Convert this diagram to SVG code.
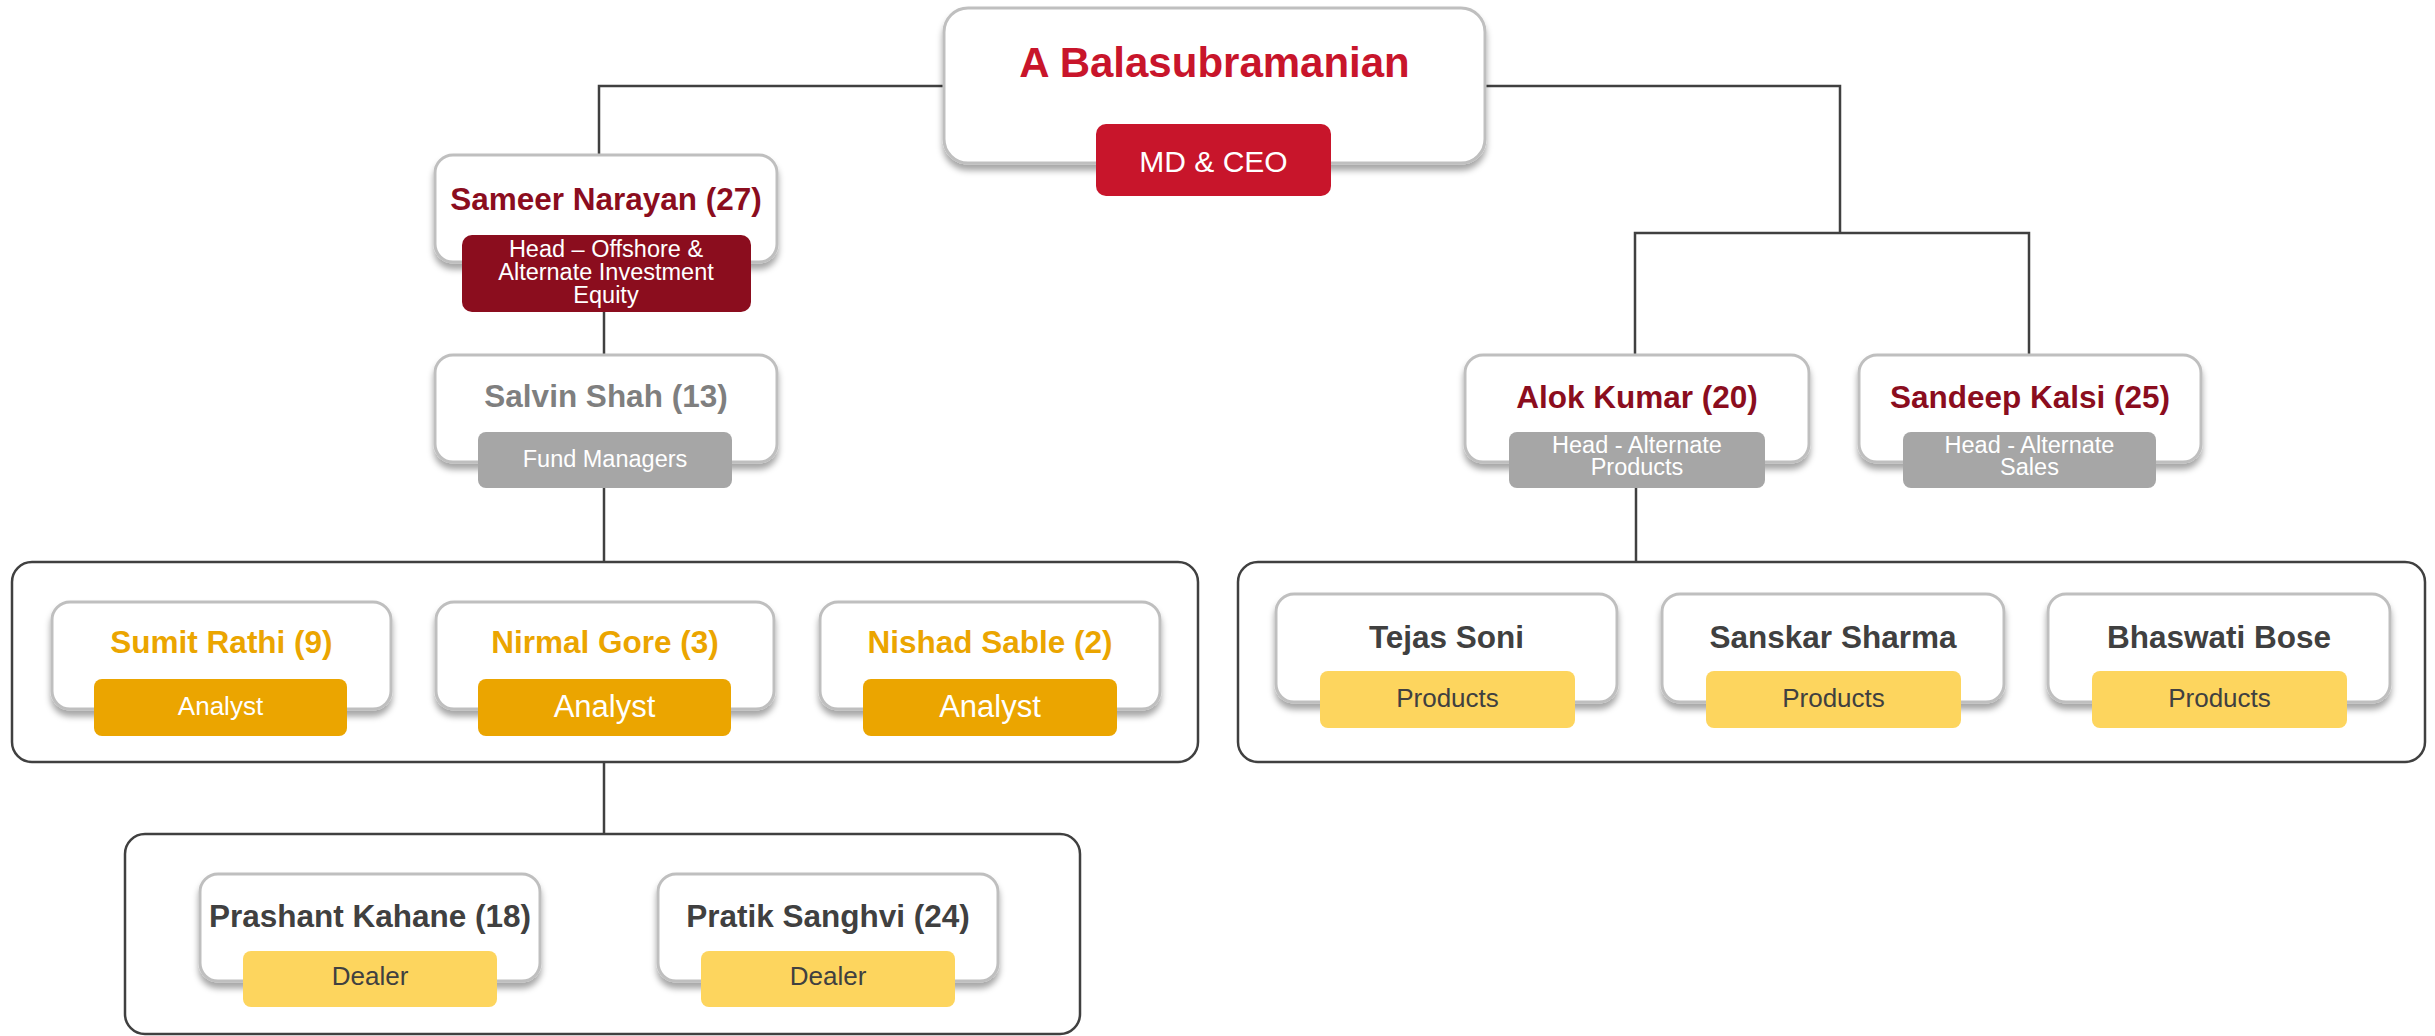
<svg xmlns="http://www.w3.org/2000/svg" width="2435" height="1036" viewBox="0 0 2435 1036">
<defs>
<filter id="sh" x="-10%" y="-10%" width="120%" height="140%">
<feDropShadow dx="0" dy="6" stdDeviation="3" flood-color="#000" flood-opacity="0.35"/>
</filter>
<style>
.box{fill:#fff;stroke:#BFBFBF;stroke-width:3;filter:url(#sh)}
.grp{fill:#fff;stroke:#404040;stroke-width:2.5}
.con{fill:none;stroke:#404040;stroke-width:2.5}
text{font-family:"Liberation Sans",Arial,sans-serif;text-anchor:middle}
.nm{font-weight:bold;font-size:31.5px}
.bt{font-size:23.5px;fill:#fff}
.red{fill:#8B0D1E}
.gray{fill:#A6A6A6}
.org{fill:#EBA500}
.yel{fill:#FDD55E}
.yt{font-size:26px;fill:#404040}
.dk{fill:#404040}
</style>
</defs>
<rect width="2435" height="1036" fill="#fff"/>
<g id="group-analysts"><rect class="grp" x="12" y="562" width="1186" height="200" rx="20"/></g>
<g id="group-products"><rect class="grp" x="1238" y="562" width="1187" height="200" rx="20"/></g>
<g id="group-dealers"><rect class="grp" x="125" y="834" width="955" height="200" rx="20"/></g>
<g id="connectors">
<path class="con" d="M944 86 H599 V155"/>
<path class="con" d="M1485 86 H1840 V233"/>
<path class="con" d="M1635 355 V233 H2029 V355"/>
<path class="con" d="M604 312 V355"/>
<path class="con" d="M604 488 V562"/>
<path class="con" d="M604 762 V834"/>
<path class="con" d="M1636 488 V562"/>
</g>
<g id="ceo">
<rect class="box" x="944" y="8" width="541" height="155" rx="24"/>
<rect x="1096" y="124" width="235" height="72" rx="10" fill="#C8152B"/>
<text x="1214.5" y="77" font-size="42" font-weight="bold" fill="#C8152B">A Balasubramanian</text>
<text x="1213.5" y="172" font-size="30" fill="#fff">MD &amp; CEO</text>
</g>
<g id="sameer">
<rect class="box" x="435" y="155" width="342" height="107" rx="18"/>
<rect class="red" x="462" y="235" width="289" height="77" rx="10"/>
<text class="nm red" x="606" y="210" font-size="32">Sameer Narayan (27)</text>
<text class="bt" x="606" y="257">Head – Offshore &amp;</text>
<text class="bt" x="606" y="280">Alternate Investment</text>
<text class="bt" x="606" y="303">Equity</text>
</g>
<g id="salvin">
<rect class="box" x="435" y="355" width="342" height="107" rx="18"/>
<rect class="gray" x="478" y="432" width="254" height="56" rx="8"/>
<text class="nm" x="606" y="407" fill="#7F7F7F">Salvin Shah (13)</text>
<text class="bt" x="605" y="467">Fund Managers</text>
</g>
<g id="alok">
<rect class="box" x="1465" y="355" width="344" height="107" rx="18"/>
<rect class="gray" x="1509" y="432" width="256" height="56" rx="8"/>
<text class="nm red" x="1637" y="408">Alok Kumar (20)</text>
<text class="bt" x="1637" y="453">Head - Alternate</text>
<text class="bt" x="1637" y="475">Products</text>
</g>
<g id="sandeep">
<rect class="box" x="1859" y="355" width="342" height="107" rx="18"/>
<rect class="gray" x="1903" y="432" width="253" height="56" rx="8"/>
<text class="nm red" x="2030" y="408">Sandeep Kalsi (25)</text>
<text class="bt" x="2029.5" y="453">Head - Alternate</text>
<text class="bt" x="2029.5" y="475">Sales</text>
</g>
<g id="sumit">
<rect class="box" x="52" y="602" width="339" height="107" rx="18"/>
<rect class="org" x="94" y="679" width="253" height="57" rx="8"/>
<text class="nm org" x="221.5" y="653">Sumit Rathi (9)</text>
<text x="220.5" y="715" font-size="26" fill="#fff">Analyst</text>
</g>
<g id="nirmal">
<rect class="box" x="436" y="602" width="338" height="107" rx="18"/>
<rect class="org" x="478" y="679" width="253" height="57" rx="8"/>
<text class="nm org" x="605" y="653">Nirmal Gore (3)</text>
<text x="604.5" y="717" font-size="31" fill="#fff">Analyst</text>
</g>
<g id="nishad">
<rect class="box" x="820" y="602" width="340" height="107" rx="18"/>
<rect class="org" x="863" y="679" width="254" height="57" rx="8"/>
<text class="nm org" x="990" y="653">Nishad Sable (2)</text>
<text x="990" y="717" font-size="31" fill="#fff">Analyst</text>
</g>
<g id="tejas">
<rect class="box" x="1276" y="594" width="341" height="108" rx="18"/>
<rect class="yel" x="1320" y="671" width="255" height="57" rx="8"/>
<text class="nm dk" x="1446.5" y="648">Tejas Soni</text>
<text class="yt" x="1447.5" y="707">Products</text>
</g>
<g id="sanskar">
<rect class="box" x="1662" y="594" width="342" height="108" rx="18"/>
<rect class="yel" x="1706" y="671" width="255" height="57" rx="8"/>
<text class="nm dk" x="1833" y="648">Sanskar Sharma</text>
<text class="yt" x="1833.5" y="707">Products</text>
</g>
<g id="bhaswati">
<rect class="box" x="2048" y="594" width="342" height="108" rx="18"/>
<rect class="yel" x="2092" y="671" width="255" height="57" rx="8"/>
<text class="nm dk" x="2219" y="648">Bhaswati Bose</text>
<text class="yt" x="2219.5" y="707">Products</text>
</g>
<g id="prashant">
<rect class="box" x="200" y="874" width="340" height="107" rx="18"/>
<rect class="yel" x="243" y="951" width="254" height="56" rx="8"/>
<text class="nm dk" x="370" y="927">Prashant Kahane (18)</text>
<text class="yt" x="370" y="985" font-size="25">Dealer</text>
</g>
<g id="pratik">
<rect class="box" x="658" y="874" width="340" height="107" rx="18"/>
<rect class="yel" x="701" y="951" width="254" height="56" rx="8"/>
<text class="nm dk" x="828" y="927">Pratik Sanghvi (24)</text>
<text class="yt" x="828" y="985" font-size="25">Dealer</text>
</g>
</svg>
